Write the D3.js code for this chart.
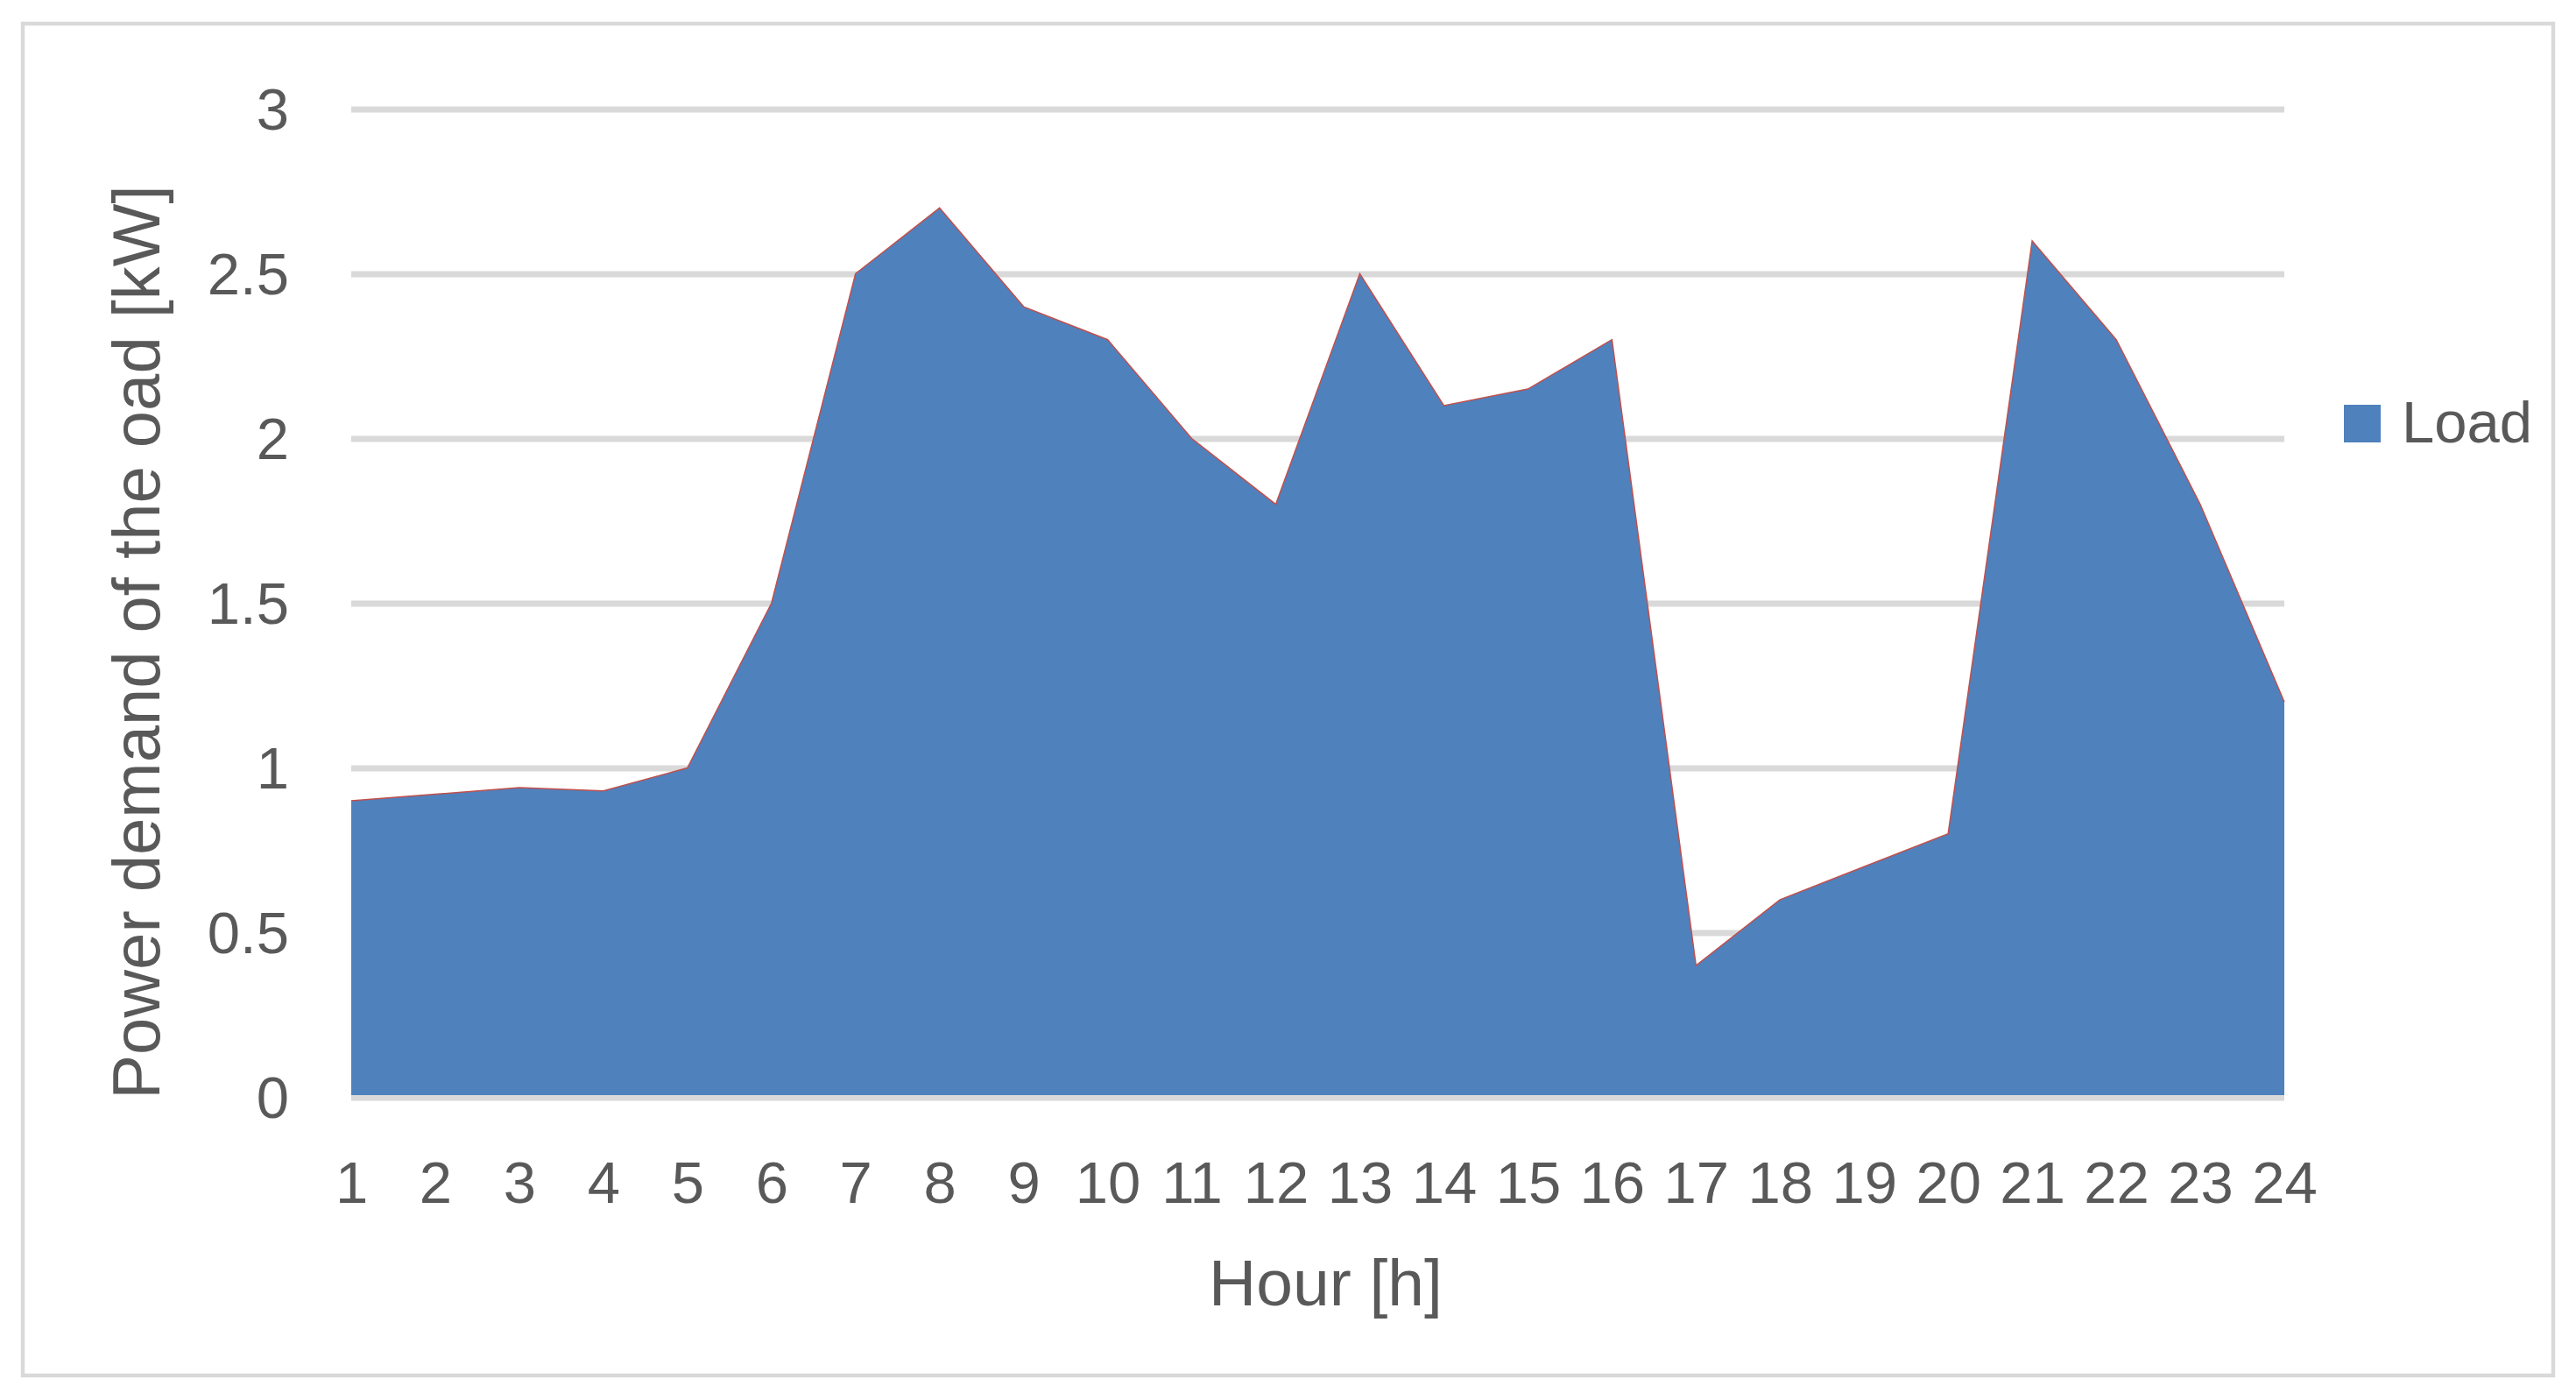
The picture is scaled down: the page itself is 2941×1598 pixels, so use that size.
<!DOCTYPE html>
<html>
<head>
<meta charset="utf-8">
<script src="https://cdn.jsdelivr.net/npm/d3@7"></script>
<style>
    body { margin: 0; background: #ffffff; }
    svg text { font-family: "Liberation Sans", Arial, sans-serif; fill: #595959; }
</style>
</head>
<body>
<svg id="chart"></svg>
<script>
// values
const hours = [1, 2, 3, 4, 5, 6, 7, 8, 9, 10, 11, 12,
               13, 14, 15, 16, 17, 18, 19, 20, 21, 22, 23, 24];
const load = [0.9, 0.92, 0.94, 0.93, 1.0, 1.5, 2.5, 2.7, 2.4, 2.3, 2.0, 1.8,
              2.5, 2.1, 2.15, 2.3, 0.4, 0.6, 0.7, 0.8, 2.6, 2.3, 1.8, 1.2];
const yTicks = [0, 0.5, 1, 1.5, 2, 2.5, 3];
const seriesName = "Load";
const xTitle = "Hour [h]";
const yTitle = "Power demand of the oad [kW]";

const width = 2941;
const height = 1598;

const plotLeft = 401;
const plotRight = 2608;
const plotTop = 124.5;
const plotBottom = 1252.5;

const fillColor = "#4f81bd";
const edgeColor = "#c0504d";
const gridColor = "#d9d9d9";

const svg = d3.select("#chart")
    .attr("width", width)
    .attr("height", height);

// outer chart frame
svg.append("rect")
    .attr("x", 26)
    .attr("y", 27)
    .attr("width", 2915 - 26)
    .attr("height", 1570 - 27)
    .style("fill", "none")
    .style("stroke", gridColor)
    .style("stroke-width", 4.5);

const xscale = d3.scaleLinear()
    .domain([hours[0], hours[hours.length - 1]])
    .range([plotLeft, plotRight]);

const yscale = d3.scaleLinear()
    .domain([0, 3])
    .range([plotBottom, plotTop]);

// horizontal gridlines
const grid = d3.axisLeft(yscale)
    .tickValues(yTicks)
    .tickSize(-(plotRight - plotLeft))
    .tickFormat("");

svg.append("g")
    .attr("id", "grid")
    .attr("transform", `translate(${[plotLeft, 0]})`)
    .call(grid)
    .call(g => g.select(".domain").remove())
    .call(g => g.selectAll("line")
          .style("stroke", gridColor)
          .style("stroke-width", 7));

// area for the load
const area = d3.area()
      .x((d, i) => xscale(hours[i]))
      .y0(yscale(0) - 2.5)
      .y1((d) => yscale(d));

svg.append("path")
    .attr("d", area(load))
    .style("fill", fillColor);

const line = d3.line()
      .x((d, i) => xscale(hours[i]))
      .y((d) => yscale(d));

svg.append("path")
    .attr("d", line(load))
    .style("fill", "none")
    .style("stroke", edgeColor)
    .style("stroke-width", 1.5);

// axes labels
const xAxis = d3.axisBottom(xscale)
      .tickValues(hours)
      .tickSize(0)
      .tickPadding(0)
      .tickFormat(d3.format("d"));

svg.append("g")
    .attr("id", "xaxis")
    .attr("transform", `translate(${[0, 1373]})`)
    .call(xAxis)
    .call(g => g.select(".domain").remove())
    .call(g => g.selectAll("text")
          .attr("dy", 0)
          .attr("font-size", 67)
          .style("fill", "#595959"));

const yAxis = d3.axisLeft(yscale)
      .tickValues(yTicks)
      .tickSize(0)
      .tickPadding(0)
      .tickFormat(d3.format("~g"));

svg.append("g")
    .attr("id", "yaxis")
    .attr("transform", `translate(${[330, 0]})`)
    .call(yAxis)
    .call(g => g.select(".domain").remove())
    .call(g => g.selectAll("text")
          .attr("dy", "0.35em")
          .attr("font-size", 67)
          .style("fill", "#595959"));

// titles
svg.append("text")
    .text(xTitle)
    .attr("text-anchor", "middle")
    .attr("font-size", 75)
    .attr("transform", `translate(${[(1379 + 1648) / 2, 1490]})`);

svg.append("text")
    .text(yTitle)
    .attr("text-anchor", "middle")
    .attr("font-size", 76)
    .attr("transform", `translate(${[182, 733]}) rotate(270)`);

// legend
const legend = svg.append("g")
    .attr("id", "legend")
    .attr("transform", `translate(${[2676, 462]})`);

legend.append("rect")
    .attr("width", 42)
    .attr("height", 43)
    .style("fill", fillColor);

legend.append("text")
    .text(seriesName)
    .attr("x", 66)
    .attr("y", 43)
    .attr("font-size", 67);
</script>
</body>
</html>
